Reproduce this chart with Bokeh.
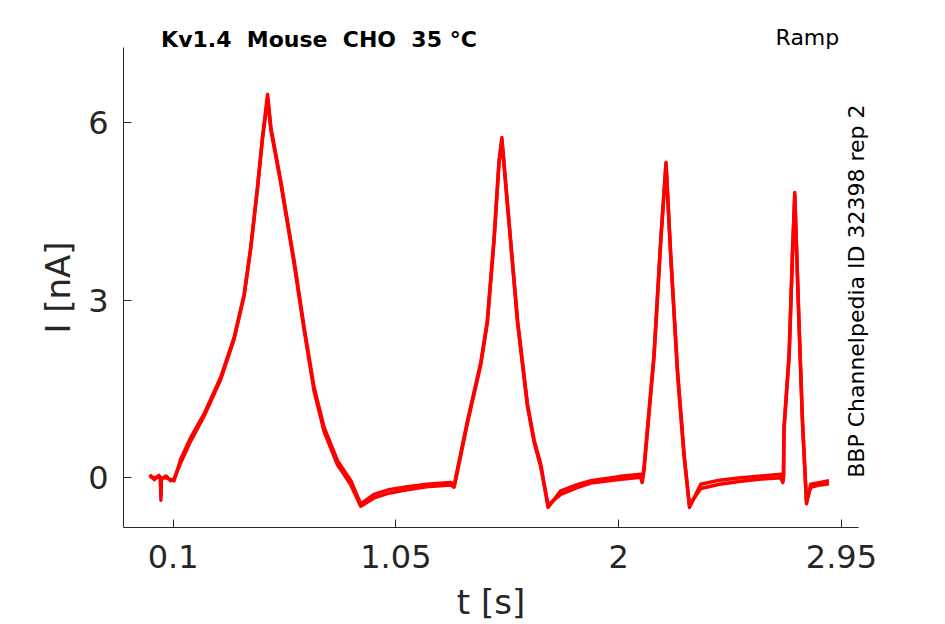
import math
from bokeh.plotting import figure
from bokeh.models import Range1d, FixedTicker, LinearAxis
from bokeh.embed import file_html
from bokeh.resources import INLINE

# time [s]
t_s = [0.000, 0.020, 0.040, 0.046, 0.048, 0.050, 0.070, 0.090, 0.104,
       0.133, 0.175, 0.232, 0.303, 0.360, 0.403, 0.431, 0.460, 0.481, 0.503,
       0.517, 0.559, 0.616, 0.659, 0.701, 0.744, 0.801, 0.858, 0.900,
       0.957, 1.020, 1.085, 1.180, 1.284, 1.298,
       1.305, 1.355, 1.412, 1.440, 1.469, 1.490, 1.502,
       1.526, 1.569, 1.611, 1.640, 1.668, 1.699,
       1.753, 1.820, 1.881, 2.000, 2.094, 2.100,
       2.108, 2.151, 2.180, 2.202, 2.222, 2.251, 2.279, 2.302,
       2.350, 2.430, 2.521, 2.610, 2.691, 2.700,
       2.703, 2.705, 2.727, 2.741, 2.751, 2.769, 2.784, 2.801, 2.819, 2.860, 2.897]

# current [nA], repetition 1
rep1_nA = [0.02, 0.00, 0.02, 0.00, -0.38, 0.00, 0.00, -0.03, -0.05,
           0.32, 0.68, 1.08, 1.70, 2.37, 3.10, 3.89, 4.91, 5.75, 6.48,
           5.92, 5.02, 3.67, 2.54, 1.53, 0.85, 0.29, -0.05, -0.44,
           -0.28, -0.20, -0.16, -0.11, -0.08, -0.13,
           0.00, 0.96, 1.95, 2.65, 4.06, 5.36, 5.75,
           4.63, 2.65, 1.25, 0.63, 0.23, -0.50,
           -0.22, -0.12, -0.05, 0.02, 0.06, -0.06,
           0.17, 2.09, 4.06, 5.33, 3.78, 1.81, 0.40, -0.50,
           -0.11, -0.04, 0.00, 0.03, 0.06, -0.05,
           0.05, 0.85, 2.09, 3.78, 4.82, 2.65, 0.96, -0.44, -0.11, -0.08, -0.05]

# current [nA], repetition 2
rep2_nA = [0.05, -0.03, 0.04, -0.02, -0.30, -0.02, 0.03, -0.05, -0.02,
           0.26, 0.62, 1.04, 1.66, 2.34, 3.08, 3.87, 4.90, 5.72, 6.40,
           5.88, 4.98, 3.62, 2.49, 1.47, 0.78, 0.22, -0.12, -0.48,
           -0.34, -0.26, -0.21, -0.15, -0.12, -0.16,
           -0.04, 0.92, 1.91, 2.62, 4.03, 5.33, 5.70,
           4.60, 2.62, 1.21, 0.59, 0.18, -0.46,
           -0.28, -0.17, -0.09, -0.03, 0.01, -0.08,
           0.12, 2.05, 4.02, 5.30, 3.74, 1.77, 0.36, -0.46,
           -0.18, -0.11, -0.06, -0.02, 0.00, -0.08,
           0.00, 0.80, 2.05, 3.74, 4.78, 2.60, 0.92, -0.40, -0.16, -0.12, -0.10]

x_ticks = [0.1, 1.05, 2.0, 2.95]
x_tick_labels = ["0.1", "1.05", "2", "2.95"]
y_ticks = [0, 3, 6]
y_tick_labels = ["0", "3", "6"]

# double gaps kept visible with a no-break space
title_text = "Kv1.4 \u00a0Mouse \u00a0CHO \u00a035 °C"
protocol_text = "Ramp"
source_text = "BBP Channelpedia ID 32398 rep 2"

# anchors (data units) of the annotation texts
TITLE_X = 0.722
RAMP_X = 2.805
SOURCE_Y = 0.0

FONT = "DejaVu Sans"
AX = "#262626"

p = figure(width=929, height=624, output_backend="svg", toolbar_location=None,
           x_range=Range1d(-0.1115, 3.0228), y_range=Range1d(-0.84, 7.272),
           min_border_left=123, min_border_right=71,
           min_border_top=47, min_border_bottom=97)
p.outline_line_color = None
p.grid.visible = False
p.background_fill_color = "white"
p.border_fill_color = "white"

for rep in (rep2_nA, rep1_nA):
    p.line(t_s, rep, line_color="#ff0000", line_width=3.5, line_join="round")

p.xaxis.ticker = FixedTicker(ticks=x_ticks)
p.xaxis.major_label_overrides = {k: v for k, v in zip(x_ticks, x_tick_labels)}
p.yaxis.ticker = FixedTicker(ticks=y_ticks)
p.yaxis.major_label_overrides = {k: v for k, v in zip(y_ticks, y_tick_labels)}

for ax in (p.xaxis, p.yaxis):
    ax.axis_line_color = AX
    ax.axis_line_width = 1
    ax.major_tick_line_color = AX
    ax.major_tick_in = 8
    ax.major_tick_out = 0
    ax.minor_tick_line_color = None
    ax.major_label_text_font = FONT
    ax.major_label_text_font_size = "32px"
    ax.major_label_text_color = AX
    ax.axis_label_text_font = FONT
    ax.axis_label_text_font_size = "34px"
    ax.axis_label_text_font_style = "normal"
    ax.axis_label_text_color = AX

p.xaxis.axis_label = "t [s]"
p.yaxis.axis_label = "I [nA]"
p.xaxis.major_label_standoff = 17
p.yaxis.major_label_standoff = 15
p.xaxis.axis_label_standoff = 11
p.yaxis.axis_label_standoff = 7


def text_axis(ticks, overrides):
    a = LinearAxis(ticker=FixedTicker(ticks=ticks),
                   major_label_overrides=overrides)
    a.axis_line_color = None
    a.major_tick_line_color = None
    a.minor_tick_line_color = None
    a.major_tick_in = 0
    a.major_tick_out = 0
    a.major_label_text_font = FONT
    a.major_label_text_font_size = "22px"
    a.major_label_text_color = "black"
    return a


ramp_axis = text_axis([RAMP_X], {RAMP_X: protocol_text})
ramp_axis.major_label_standoff = -2
p.add_layout(ramp_axis, "above")

title_axis = text_axis([TITLE_X], {TITLE_X: title_text})
title_axis.major_label_text_font_style = "bold"
title_axis.major_label_standoff = -30
p.add_layout(title_axis, "above")

src_axis = text_axis([SOURCE_Y], {SOURCE_Y: source_text})
src_axis.major_label_orientation = math.pi / 2
src_axis.major_label_standoff = -2
p.add_layout(src_axis, "right")

open("out.html", "w").write(file_html(p, INLINE))
